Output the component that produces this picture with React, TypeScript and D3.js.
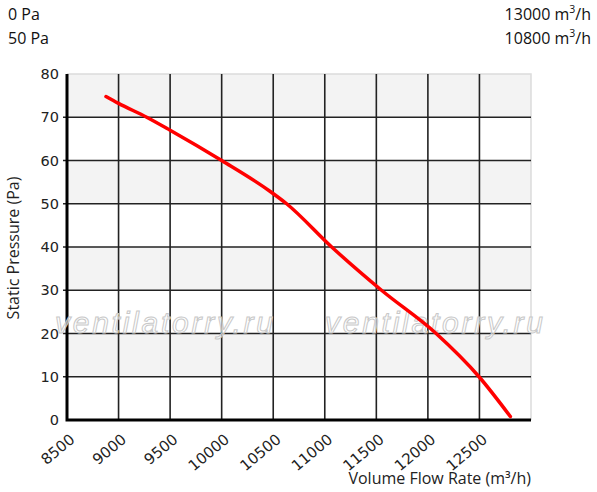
import React, { useEffect, useRef } from 'react';
import * as d3 from 'd3';

// curve: flow (m³/h) vs static pressure (Pa)
const flowValues = [8878, 9000, 9273, 9500, 10000, 10468, 10630, 11067, 11550, 12080, 12496, 12800];
const pressureValues = [74.8, 73.2, 70, 67.0, 60, 52.9, 50, 40, 30, 20, 10, 0.8];

const xTicks = [8500, 9000, 9500, 10000, 10500, 11000, 11500, 12000, 12500];
const yTicks = [0, 10, 20, 30, 40, 50, 60, 70, 80];

const headerLeft = ['0 Pa', '50 Pa'];
const headerRight = ['13000', '10800'];

const W = 597;
const H = 492;

const App: React.FC = () => {
  const svgRef = useRef<SVGSVGElement>(null);

  useEffect(() => {
    const svg = d3.select(svgRef.current);
    svg.selectAll('*').remove();

    const left = 67;
    const right = 531;
    const top = 74;
    const bottom = 420;

    const x = d3.scaleLinear().domain([8500, 13000]).range([left, right]);
    const y = d3.scaleLinear().domain([0, 80]).range([bottom, top]);

    svg.append('rect').attr('width', W).attr('height', H).attr('fill', '#fff');

    // alternating bands
    const bands = yTicks.slice(0, -1);
    svg
      .append('g')
      .selectAll('rect')
      .data(bands)
      .join('rect')
      .attr('x', left)
      .attr('y', (d) => y(d + 10))
      .attr('width', right - left)
      .attr('height', (d) => y(d) - y(d + 10))
      .attr('fill', (d) => ((d / 10) % 2 === 1 ? '#f3f3f3' : '#fff'));

    // border top / right
    svg
      .append('path')
      .attr('d', `M${left},${top}H${right}V${bottom}`)
      .attr('fill', 'none')
      .attr('stroke', '#dcdcdc')
      .attr('stroke-width', 1.5);

    // grid
    const grid = svg.append('g').attr('stroke', '#222').attr('stroke-width', 1.6);
    grid
      .selectAll('line.v')
      .data(xTicks.slice(1))
      .join('line')
      .attr('x1', (d) => x(d))
      .attr('x2', (d) => x(d))
      .attr('y1', top)
      .attr('y2', bottom);
    grid
      .selectAll('line.h')
      .data(yTicks.slice(1, -1))
      .join('line')
      .attr('x1', left - 4)
      .attr('x2', right)
      .attr('y1', (d) => y(d))
      .attr('y2', (d) => y(d));

    // axes
    svg
      .append('path')
      .attr('d', `M${left},${top}V${bottom}H${right}`)
      .attr('fill', 'none')
      .attr('stroke', '#000')
      .attr('stroke-width', 3);

    const tickFont = 'DejaVu Sans, sans-serif';

    svg
      .append('g')
      .selectAll('text')
      .data(yTicks)
      .join('text')
      .attr('x', left - 8)
      .attr('y', (d) => y(d))
      .attr('dy', '0.35em')
      .attr('text-anchor', 'end')
      .attr('font-family', tickFont)
      .attr('font-size', 14.5)
      .attr('fill', '#222')
      .text((d) => d);

    svg
      .append('g')
      .selectAll('text')
      .data(xTicks)
      .join('text')
      .attr('transform', (d) => `translate(${x(d) + 2},${bottom + 13}) rotate(-40)`)
      .attr('text-anchor', 'end')
      .attr('dy', '0.7em')
      .attr('font-family', tickFont)
      .attr('font-size', 15)
      .attr('fill', '#222')
      .text((d) => d);

    // watermark
    const wm = svg.append('g');
    [55, 325].forEach((wx) => {
      wm.append('text')
        .attr('x', wx)
        .attr('y', 333)
        .attr('font-family', 'Liberation Sans, Arial, sans-serif')
        .attr('font-style', 'italic')
        .attr('font-size', 30)
        .attr('fill', 'rgba(255,255,255,0.6)')
        .attr('stroke', '#c8c8c8')
        .attr('stroke-width', 1)
        .attr('textLength', 218)
        .text('ventilatorry.ru');
    });

    // curve
    const pts = flowValues.map((f, i) => [f, pressureValues[i]] as [number, number]);
    const line = d3
      .line<[number, number]>()
      .x((d) => x(d[0]))
      .y((d) => y(d[1]))
      .curve(d3.curveMonotoneX);
    svg
      .append('path')
      .datum(pts)
      .attr('d', line)
      .attr('fill', 'none')
      .attr('stroke', '#ff0000')
      .attr('stroke-width', 3.5)
      .attr('stroke-linecap', 'round');

    // titles
    const titleFont = 'Open Sans, Noto Sans, sans-serif';
    svg
      .append('text')
      .attr('transform', `translate(19,${248}) rotate(-90)`)
      .attr('text-anchor', 'middle')
      .attr('font-family', titleFont)
      .attr('font-size', 16)
      .attr('fill', '#222')
      .text('Static Pressure (Pa)');
    svg
      .append('text')
      .attr('x', right)
      .attr('y', 484)
      .attr('text-anchor', 'end')
      .attr('font-family', titleFont)
      .attr('font-size', 16)
      .attr('fill', '#222')
      .text('Volume Flow Rate (m³/h)');

    // header
    svg
      .append('g')
      .selectAll('text')
      .data(headerLeft)
      .join('text')
      .attr('x', 8)
      .attr('y', (_, i) => 20 + i * 24)
      .attr('font-family', titleFont)
      .attr('font-size', 16)
      .attr('fill', '#111')
      .text((d) => d);

    const hr = svg
      .append('g')
      .selectAll('text')
      .data(headerRight)
      .join('text')
      .attr('x', 591)
      .attr('y', (_, i) => 20 + i * 24)
      .attr('text-anchor', 'end')
      .attr('font-family', titleFont)
      .attr('font-size', 16)
      .attr('fill', '#111');
    hr.append('tspan').text((d) => `${d} m`);
    hr.append('tspan').attr('dy', -7).attr('font-size', 10.5).text('3');
    hr.append('tspan').attr('dy', 7).text('/h');
  }, []);

  return (
    <div style={{ position: 'absolute', left: 0, top: 0 }}>
      <svg ref={svgRef} width={W} height={H} />
    </div>
  );
};

export default App;
